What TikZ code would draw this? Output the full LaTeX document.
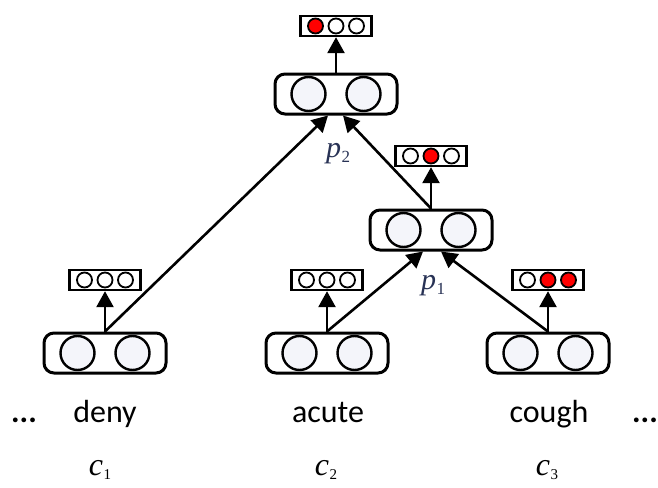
\documentclass[tikz,border=0pt]{standalone}
\usepackage{fontspec}
\setmainfont{Carlito}
\newfontfamily\serifface{Liberation Serif}
\usetikzlibrary{arrows.meta,calc}
\definecolor{cfill}{RGB}{244,245,250}
\definecolor{pcol}{RGB}{40,50,85}
\newcommand{\bigunit}[3]{%
  \node[bigbox] (#1) at (#2,#3) {};
  \node[bigcirc] (#1a) at ($(#1)+(-27.5,0)$) {};
  \node[bigcirc] (#1b) at ($(#1)+(27.5,0)$) {};
}
\newcommand{\smallunit}[6]{%
  \node[smallbox] (#1) at (#2,#3) {};
  \node[smallcirc,fill=#4] (#1a) at ($(#1)+(-20.5,0)$) {};
  \node[smallcirc,fill=#5] (#1b) at (#1) {};
  \node[smallcirc,fill=#6] (#1c) at ($(#1)+(20.5,0)$) {};
}
\begin{document}
\begin{tikzpicture}[x=1pt,y=-1pt,
  bigbox/.style={draw,line width=3pt,rounded corners=10pt,minimum width=122pt,minimum height=40pt,inner sep=0pt},
  bigcirc/.style={circle,draw,line width=2.4pt,minimum size=34pt,inner sep=0pt,fill=cfill},
  smallbox/.style={draw,line width=2.4pt,minimum width=71pt,minimum height=20pt,inner sep=0pt},
  smallcirc/.style={circle,draw,line width=1.8pt,minimum size=15pt,inner sep=0pt},
  arr/.style={line width=2.6pt,-{Triangle[length=16pt,width=17pt]}},
  word/.style={font=\fontsize{32}{36}\selectfont,anchor=base},
  clab/.style={font=\serifface\fontsize{32}{36}\selectfont,anchor=base},
  plab/.style={font=\serifface\fontsize{30}{34}\selectfont,anchor=base,text=pcol},
]
\useasboundingbox (0,0) rectangle (658,487);

% big units
\bigunit{n1}{105}{353}
\bigunit{n2}{327}{353}
\bigunit{n3}{548}{353}
\bigunit{pone}{431}{230}
\bigunit{ptwo}{336}{94}

% small output units
\smallunit{s1}{105}{280}{white}{white}{white}
\smallunit{s2}{327}{280}{white}{white}{white}
\smallunit{s3}{548}{280}{white}{red}{red}
\smallunit{sp1}{431}{156}{white}{red}{white}
\smallunit{sp2}{336}{26}{red}{white}{white}

% entry points
\coordinate (ptwoL) at ($(ptwo.south)+(-8,0)$);
\coordinate (ptwoR) at ($(ptwo.south)+(7,0)$);
\coordinate (poneL) at ($(pone.south)+(-8,0)$);
\coordinate (poneR) at ($(pone.south)+(10,0)$);

% connectors
\draw[arr] (n1.north) -- (s1.south);
\draw[arr] (n2.north) -- (s2.south);
\draw[arr] (n3.north) -- (s3.south);
\draw[arr] (pone.north) -- (sp1.south);
\draw[arr] (ptwo.north) -- (sp2.south);
\draw[arr] (n1.north) -- (ptwoL);
\draw[arr] (pone.north) -- (ptwoR);
\draw[arr] (n2.north) -- (poneL);
\draw[arr] (n3.north) -- (poneR);

% labels
\node[plab] (lp2) at (338,157) {\textit{p}\kern0.5pt\raisebox{-5pt}{\fontsize{17}{17}\selectfont 2}};
\node[plab] (lp1) at (433,289) {\textit{p}\kern0.5pt\raisebox{-5pt}{\fontsize{17}{17}\selectfont 1}};

\node[word] (w1) at (105,422) {deny};
\node[word] (w2) at (328,422) {acute};
\node[word] (w3) at (549,422) {cough};
\node[word] (dl) at (24,422) {\textbf{...}};
\node[word] (dr) at (645,422) {\textbf{...}};

\node[clab] (c1) at (100,475) {\textit{c}\kern0.5pt\raisebox{-4pt}{\fontsize{15}{15}\selectfont 1}};
\node[clab] (c2) at (326,475) {\textit{c}\kern0.5pt\raisebox{-4pt}{\fontsize{15}{15}\selectfont 2}};
\node[clab] (c3) at (547,475) {\textit{c}\kern0.5pt\raisebox{-4pt}{\fontsize{15}{15}\selectfont 3}};
\end{tikzpicture}
\end{document}
